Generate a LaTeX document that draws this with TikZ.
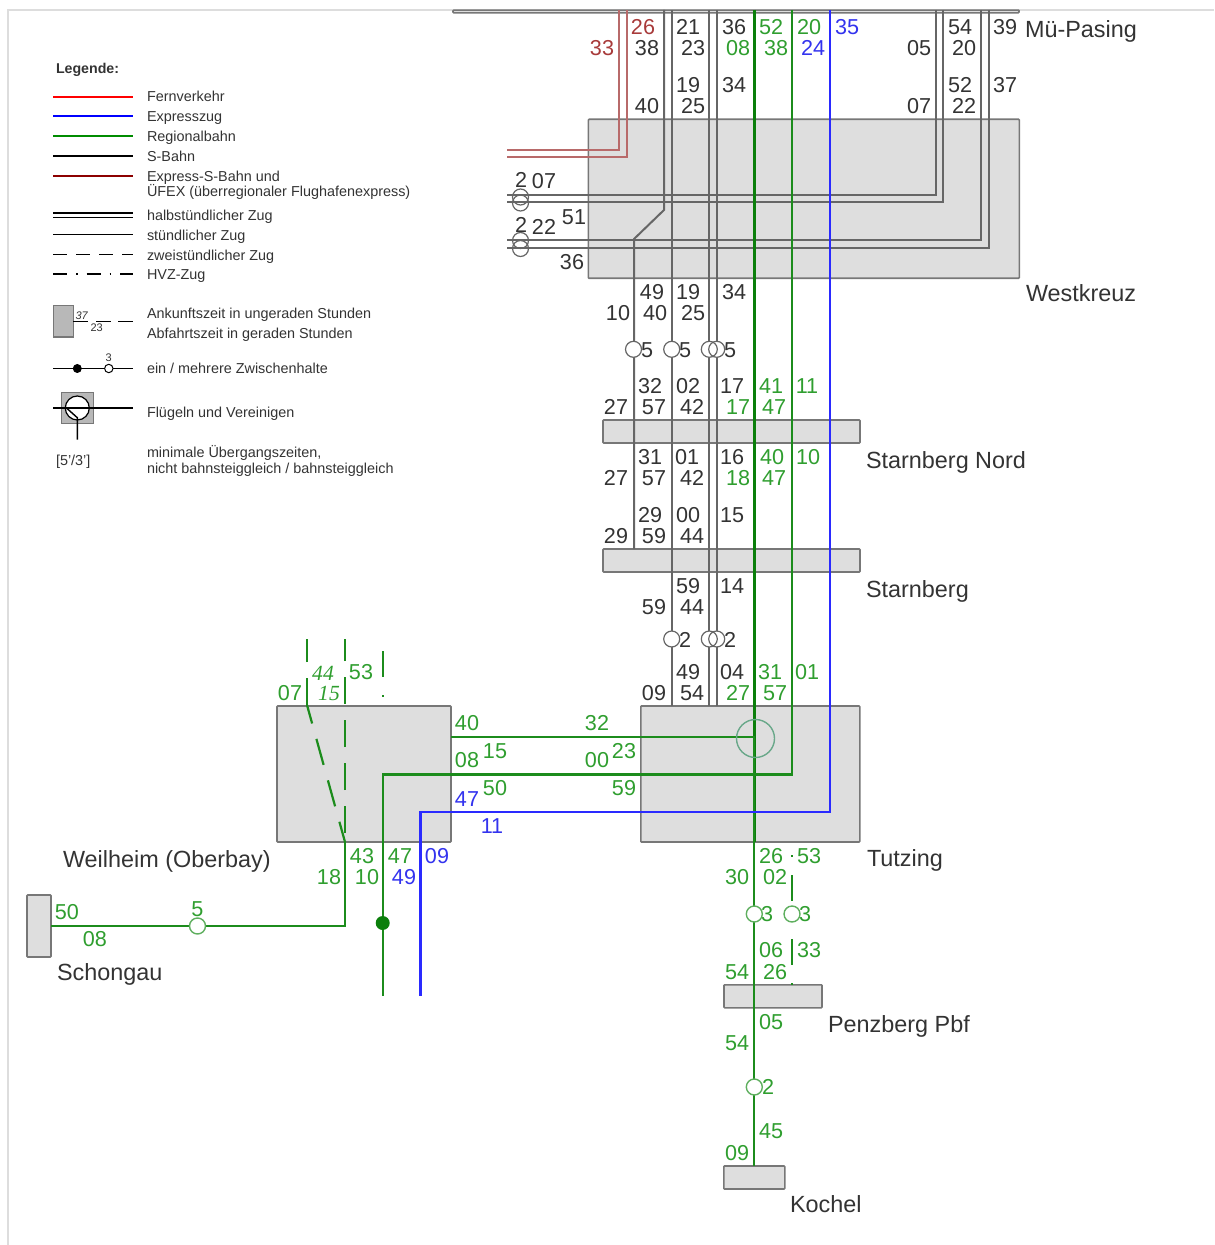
\documentclass[tikz,border=0pt]{standalone}
\usepackage{fontspec}
\setmainfont{Liberation Sans}
\newfontfamily\timesfont{Liberation Serif}
\definecolor{framegrey}{HTML}{DDDDDD}
\definecolor{boxgrey}{HTML}{DEDEDE}
\definecolor{boxedge}{HTML}{777777}
\definecolor{sbahngrey}{HTML}{666666}
\definecolor{txtgrey}{HTML}{333333}
\definecolor{txtgreen}{HTML}{2F9E2F}
\definecolor{txtblue}{HTML}{3333EE}
\definecolor{txtred}{HTML}{A83A3A}
\definecolor{regiogreen}{HTML}{1C8C1C}
\definecolor{regiodark}{HTML}{0B7F0B}
\definecolor{expressblue}{HTML}{2A2AFF}
\definecolor{ufexred}{HTML}{B86A6A}
\definecolor{stopgreen}{HTML}{5FAF5F}
\definecolor{ringgreen}{HTML}{6AA88A}
\definecolor{legendbox}{HTML}{B8B8B8}
\tikzset{
    timetext/.style={font=\fontsize{10.8}{12}\selectfont, inner sep=0pt, outer sep=0pt, anchor=center},
    timeblack/.style={timetext, text=txtgrey},
    timegreen/.style={timetext, text=txtgreen},
    timeblue/.style={timetext, text=txtblue},
    timered/.style={timetext, text=txtred},
    timeitalic/.style={inner sep=0pt, outer sep=0pt, text=txtgreen, font=\timesfont\itshape\fontsize{10.8}{12}\selectfont},
    stationname/.style={font=\fontsize{11.7}{13}\selectfont, text=txtgrey, inner sep=0pt, outer sep=0pt, anchor=base west},
    legendtext/.style={font=\fontsize{7.2}{9}\selectfont, text=txtgrey, inner sep=0pt, outer sep=0pt, anchor=base west},
    legendsmall/.style={font=\fontsize{5.5}{6}\selectfont, text=txtgrey, inner sep=0pt, outer sep=0pt},
    stationbox/.style={draw=boxedge, fill=boxgrey, line width=0.8pt, rounded corners=0.4pt, inner sep=0pt, outer sep=0pt},
    legendgrey/.style={draw=boxedge, fill=legendbox, line width=0.6pt, inner sep=0pt, outer sep=0pt},
    legendline/.style={line width=0.85pt},
    lineblack/.style={draw=sbahngrey, line width=1pt},
    linegreen/.style={draw=regiogreen, line width=1.1pt},
    linedark/.style={draw=regiodark, line width=1.2pt},
    lineblue/.style={draw=expressblue, line width=1.2pt},
    linered/.style={draw=ufexred, line width=1pt},
    zweistd/.style={dash pattern=on 13.5pt off 8pt},
    hvzdash/.style={dash pattern=on 1pt off 9pt on 13pt off 9pt},
    stopblack/.style={circle, draw=sbahngrey, fill=white, line width=0.6pt, minimum size=8pt, inner sep=0pt, outer sep=0pt},
    stopgrn/.style={circle, draw=stopgreen, fill=white, line width=0.7pt, minimum size=8pt, inner sep=0pt, outer sep=0pt},
    stopring/.style={circle, draw=sbahngrey, line width=0.6pt, minimum size=8pt, inner sep=0pt, outer sep=0pt},
    stopwhite/.style={circle, fill=white, minimum size=8pt, inner sep=0pt, outer sep=0pt}
}
\begin{document}
\begin{tikzpicture}[x=0.5pt, y=-0.5pt]
        \useasboundingbox (0, 0) rectangle (1214, 1245);

        % Frame
        \draw [framegrey, line width=0.75pt] (8, 1245) -- (8, 10) -- (1214, 10);

        % Legend
        \node [legendtext, font=\fontsize{7.1}{9}\selectfont\bfseries] (lgTitle) at (56, 73.7) {Legende:};
        \draw [red, legendline] (53, 97) -- (133, 97);
        \draw [blue, legendline] (53, 116) -- (133, 116);
        \draw [green!55!black, legendline] (53, 136) -- (133, 136);
        \draw [black, legendline] (53, 156) -- (133, 156);
        \draw [red!55!black, legendline] (53, 176) -- (133, 176);
        \draw [black, legendline] (53, 213) -- (133, 213);
        \draw [black, legendline] (53, 217.5) -- (133, 217.5);
        \draw [black, line width=0.65pt] (53, 234.5) -- (133, 234.5);
        \draw [black, line width=0.75pt, dash pattern=on 7pt off 4.5pt] (53, 254.7) -- (133, 254.7);
        \draw [black, line width=0.75pt, dash pattern=on 7pt off 4.5pt on 0.8pt off 4.5pt] (53, 274) -- (133, 274);
        \node [legendtext] (lgFern) at (147, 102) {Fernverkehr};
        \node [legendtext] (lgExpress) at (147, 121.2) {Expresszug};
        \node [legendtext] (lgRegio) at (147, 141.6) {Regionalbahn};
        \node [legendtext] (lgSbahn) at (147, 161.2) {S-Bahn};
        \node [legendtext] (lgUfexA) at (147, 181.2) {Express-S-Bahn und};
        \node [legendtext] (lgUfexB) at (147, 197) {ÜFEX (überregionaler Flughafenexpress)};
        \node [legendtext] (lgHalb) at (147, 220.6) {halbstündlicher Zug};
        \node [legendtext] (lgStd) at (147, 240.6) {stündlicher Zug};
        \node [legendtext] (lgZwei) at (147, 260.2) {zweistündlicher Zug};
        \node [legendtext] (lgHvz) at (147, 279.6) {HVZ-Zug};

        \node [legendgrey, minimum width=10pt, minimum height=15.7pt] (lgBoxA) at (63.3, 321.3) {};
        \draw [black, line width=0.75pt] (lgBoxA.east) -- (88, 321.3);
        \draw [black, line width=0.75pt] (96, 321.3) -- (110.5, 321.3);
        \draw [black, line width=0.75pt] (118, 321.3) -- (133, 321.3);
        \node [legendsmall, font=\fontsize{5.5}{6}\selectfont\itshape] (lgArr) at (81.7, 315.7) {37};
        \node [legendsmall] (lgDep) at (96.7, 327.7) {23};
        \node [legendtext] (lgAnk) at (147, 318.7) {Ankunftszeit in ungeraden Stunden};
        \node [legendtext] (lgAbf) at (147, 338.7) {Abfahrtszeit in geraden Stunden};

        \draw [black, legendline] (53, 368.5) -- (133, 368.5);
        \node [circle, fill=black, minimum size=4.5pt, inner sep=0pt] (lgStopA) at (77.3, 368.5) {};
        \node [circle, draw=black, fill=white, line width=0.5pt, minimum size=4.2pt, inner sep=0pt] (lgStopB) at (108.8, 368.5) {};
        \node [legendsmall] (lgStopNum) at (108.8, 358) {3};
        \node [legendtext] (lgHalt) at (147, 374) {ein / mehrere Zwischenhalte};

        \node [legendgrey, minimum width=15.8pt, minimum height=15.7pt] (lgBoxB) at (77.5, 408) {};
        \node [circle, draw=black, fill=white, line width=0.6pt, minimum size=12pt, inner sep=0pt] (lgRing) at (77.3, 408) {};
        \draw [black, line width=0.7pt] (53, 408) -- (133, 408);
        \draw [black, line width=0.7pt] (66.5, 408) -- (77.3, 417.7) -- (77.3, 439.5);
        \node [legendtext] (lgFlug) at (147, 417) {Flügeln und Vereinigen};
        \node [legendtext] (lgUmst) at (56, 465) {[5'/3']};
        \node [legendtext] (lgMinA) at (147, 457) {minimale Übergangszeiten,};
        \node [legendtext] (lgMinB) at (147, 473) {nicht bahnsteiggleich / bahnsteiggleich};

        % Station boxes
        \node [stationbox, minimum width=283pt, minimum height=1.4pt] (pasing) at (736, 11.5) {};
        \node [stationbox, minimum width=215.5pt, minimum height=79.5pt] (westkreuz) at (803.8, 198.8) {};
        \node [stationbox, minimum width=128.5pt, minimum height=11.5pt] (nord) at (731.5, 431.5) {};
        \node [stationbox, minimum width=128.5pt, minimum height=11.5pt] (starnberg) at (731.5, 560.5) {};
        \node [stationbox, minimum width=109.5pt, minimum height=68pt] (tutzing) at (750.3, 774) {};
        \node [stationbox, minimum width=87pt, minimum height=68pt] (weilheim) at (364, 774) {};
        \node [stationbox, minimum width=49pt, minimum height=11.5pt] (penzberg) at (773, 996.3) {};
        \node [stationbox, minimum width=30.5pt, minimum height=11.5pt] (kochel) at (754.3, 1177.5) {};
        \node [stationbox, minimum width=12pt, minimum height=31pt] (schongau) at (39, 926) {};

        % Line points
        \coordinate (redA) at (619, 10);
        \coordinate (redAb) at (619, 150);
        \coordinate (redAw) at (507, 150);
        \coordinate (redB) at (626.5, 10);
        \coordinate (redBb) at (626.5, 157);
        \coordinate (redBw) at (507, 157);
        \coordinate (sA) at (664, 10);
        \coordinate (sAb) at (664, 210);
        \coordinate (sAc) at (634, 239);
        \coordinate (sAe) at (634, 549);
        \coordinate (sB) at (671.7, 10);
        \coordinate (sBe) at (671.7, 706);
        \coordinate (sC) at (709.3, 10);
        \coordinate (sCe) at (709.3, 706);
        \coordinate (sD) at (716.7, 10);
        \coordinate (sDe) at (716.7, 706);
        \coordinate (hA) at (935.7, 10);
        \coordinate (hAb) at (935.7, 195);
        \coordinate (hAw) at (507, 195);
        \coordinate (hB) at (943, 10);
        \coordinate (hBb) at (943, 202);
        \coordinate (hBw) at (507, 202);
        \coordinate (hC) at (981, 10);
        \coordinate (hCb) at (981, 240.5);
        \coordinate (hCw) at (507, 240.5);
        \coordinate (hD) at (988.7, 10);
        \coordinate (hDb) at (988.7, 248);
        \coordinate (hDw) at (507, 248);
        \coordinate (gA) at (754.3, 10);
        \coordinate (gAb) at (754.3, 842);
        \coordinate (gAj) at (754.3, 737);
        \coordinate (gAe) at (754.3, 1166);
        \coordinate (gAw) at (451, 737);
        \coordinate (gB) at (792.3, 10);
        \coordinate (gBb) at (792.3, 774.5);
        \coordinate (gBw) at (382.7, 774.5);
        \coordinate (gBe) at (382.7, 996);
        \coordinate (bA) at (830, 10);
        \coordinate (bAb) at (830, 812);
        \coordinate (bAw) at (420.3, 812);
        \coordinate (bAe) at (420.3, 996);
        \coordinate (gC) at (51, 926);
        \coordinate (gCb) at (345, 926);
        \coordinate (gCt) at (345, 842);
        \coordinate (gD) at (345, 833);
        \coordinate (gDt) at (345, 639);
        \coordinate (gEt) at (307, 639);
        \coordinate (gEb) at (307, 705);
        \coordinate (gF) at (382.7, 651);
        \coordinate (gFe) at (382.7, 706);
        \coordinate (gG) at (792.3, 855);
        \coordinate (gGe) at (792.3, 985);

        % Lines
        \draw [linered] (redA) -- (redAb) -- (redAw);
        \draw [linered] (redB) -- (redBb) -- (redBw);
        \draw [lineblack] (sA) -- (sAb) -- (sAc) -- (sAe);
        \draw [lineblack] (sB) -- (sBe);
        \draw [lineblack] (sC) -- (sCe);
        \draw [lineblack] (sD) -- (sDe);
        \draw [lineblack] (hA) -- (hAb) -- (hAw);
        \draw [lineblack] (hB) -- (hBb) -- (hBw);
        \draw [lineblack] (hC) -- (hCb) -- (hCw);
        \draw [lineblack] (hD) -- (hDb) -- (hDw);
        \draw [linedark] (gA) -- (gAb);
        \draw [linegreen] (gAw) -- (gAj) -- (gAe);
        \draw [linegreen] (gB) -- (gBb) -- (gBw) -- (gBe);
        \draw [lineblue] (bA) -- (bAb) -- (bAw) -- (bAe);
        \draw [linegreen] (gC) -- (gCb) -- (gCt);
        \draw [linegreen, zweistd] (gD) -- (gDt);
        \draw [linegreen, zweistd, dash phase=3pt] (gCt) -- (gEb);
        \draw [linegreen, zweistd] (gEb) -- (gEt);
        \draw [linegreen, hvzdash, dash phase=10pt] (gF) -- (gFe);
        \draw [linegreen, hvzdash] (gG) -- (gGe);

        % Stops
        \node [stopring] (wRingA) at (520.5, 197) {};
        \node [stopring] (wRingB) at (520.5, 203) {};
        \node [stopring] (wRingC) at (520.5, 240.5) {};
        \node [stopring] (wRingD) at (520.5, 248.5) {};
        \node [stopblack] (uStopA) at (633.5, 349.3) {};
        \node [stopblack] (uStopB) at (671.7, 349.3) {};
        \node [stopwhite] (uBackC) at (709.3, 349.3) {};
        \node [stopwhite] (uBackD) at (716.7, 349.3) {};
        \node [stopring] (uStopC) at (709.3, 349.3) {};
        \node [stopring] (uStopD) at (716.7, 349.3) {};
        \node [stopblack] (tStopB) at (671.7, 639) {};
        \node [stopwhite] (tBackC) at (709.3, 639) {};
        \node [stopwhite] (tBackD) at (716.7, 639) {};
        \node [stopring] (tStopC) at (709.3, 639) {};
        \node [stopring] (tStopD) at (716.7, 639) {};
        \node [stopgrn] (zStopA) at (754.3, 914) {};
        \node [stopgrn] (zStopB) at (792, 914) {};
        \node [stopgrn] (bStop) at (754.3, 1087) {};
        \node [stopgrn] (cStop) at (197.5, 926) {};
        \node [circle, fill=regiodark, minimum size=7pt, inner sep=0pt] (kStop) at (382.7, 923) {};
        \node [circle, draw=ringgreen, line width=0.7pt, minimum size=19pt, inner sep=0pt] (tutRing) at (755.5, 738.5) {};

        % Mue-Pasing times
        \node [timered] (p33) at (602, 48) {33};
        \node [timered] (p26) at (643, 27) {26};
        \node [timeblack] (p38) at (647, 48) {38};
        \node [timeblack] (p21) at (688, 27) {21};
        \node [timeblack] (p23) at (693, 48) {23};
        \node [timeblack] (p36) at (734, 27) {36};
        \node [timegreen] (p08) at (738, 48) {08};
        \node [timegreen] (p52) at (771, 27) {52};
        \node [timegreen] (p38g) at (776, 48) {38};
        \node [timegreen] (p20) at (809, 27) {20};
        \node [timeblue] (p24) at (813, 48) {24};
        \node [timeblue] (p35) at (847, 27) {35};
        \node [timeblack] (p05) at (919, 48) {05};
        \node [timeblack] (p54) at (960, 27) {54};
        \node [timeblack] (p20b) at (964, 48) {20};
        \node [timeblack] (p39) at (1005, 27) {39};

        % Westkreuz times
        \node [timeblack] (w19) at (688, 85) {19};
        \node [timeblack] (w25) at (693, 106) {25};
        \node [timeblack] (w34) at (734, 85) {34};
        \node [timeblack] (w40) at (647, 106) {40};
        \node [timeblack] (w52) at (960, 85) {52};
        \node [timeblack] (w22) at (964, 106) {22};
        \node [timeblack] (w07) at (919, 106) {07};
        \node [timeblack] (w37) at (1005, 85) {37};
        \node [timeblack] (wA2) at (521, 180) {2};
        \node [timeblack] (wA07) at (544, 181) {07};
        \node [timeblack] (wA51) at (574, 217) {51};
        \node [timeblack] (wB2) at (521, 225) {2};
        \node [timeblack] (wB22) at (544, 227) {22};
        \node [timeblack] (wB36) at (572, 262) {36};
        \node [timeblack] (u49) at (652, 292) {49};
        \node [timeblack] (u19) at (688, 292) {19};
        \node [timeblack] (u34) at (734, 292) {34};
        \node [timeblack] (u10) at (618, 313) {10};
        \node [timeblack] (u40) at (655, 313) {40};
        \node [timeblack] (u25) at (693, 313) {25};
        \node [timeblack] (uA5) at (647, 350) {5};
        \node [timeblack] (uB5) at (685, 350) {5};
        \node [timeblack] (uC5) at (730, 350) {5};

        % Starnberg Nord times
        \node [timeblack] (n32) at (650, 386) {32};
        \node [timeblack] (n02) at (688, 386) {02};
        \node [timeblack] (n17) at (732, 386) {17};
        \node [timegreen] (n41) at (771, 386) {41};
        \node [timegreen] (n11) at (807, 386) {11};
        \node [timeblack] (n27) at (616, 407) {27};
        \node [timeblack] (n57) at (654, 407) {57};
        \node [timeblack] (n42) at (692, 407) {42};
        \node [timegreen] (n17g) at (738, 407) {17};
        \node [timegreen] (n47) at (774, 407) {47};
        \node [timeblack] (m31) at (650, 457) {31};
        \node [timeblack] (m01) at (687, 457) {01};
        \node [timeblack] (m16) at (732, 457) {16};
        \node [timegreen] (m40) at (772, 457) {40};
        \node [timegreen] (m10) at (808, 457) {10};
        \node [timeblack] (m27) at (616, 478) {27};
        \node [timeblack] (m57) at (654, 478) {57};
        \node [timeblack] (m42) at (692, 478) {42};
        \node [timegreen] (m18) at (738, 478) {18};
        \node [timegreen] (m47) at (774, 478) {47};

        % Starnberg times
        \node [timeblack] (s29) at (650, 515) {29};
        \node [timeblack] (s00) at (688, 515) {00};
        \node [timeblack] (s15) at (732, 515) {15};
        \node [timeblack] (s29b) at (616, 536) {29};
        \node [timeblack] (s59) at (654, 536) {59};
        \node [timeblack] (s44) at (692, 536) {44};
        \node [timeblack] (t59) at (688, 586) {59};
        \node [timeblack] (t14) at (732, 586) {14};
        \node [timeblack] (t59b) at (654, 607) {59};
        \node [timeblack] (t44) at (692, 607) {44};
        \node [timeblack] (tA2) at (685, 640) {2};
        \node [timeblack] (tB2) at (730, 640) {2};

        % Tutzing times
        \node [timeblack] (v49) at (688, 672) {49};
        \node [timeblack] (v04) at (732, 672) {04};
        \node [timegreen] (v31) at (770, 672) {31};
        \node [timegreen] (v01) at (807, 672) {01};
        \node [timeblack] (v09) at (654, 693) {09};
        \node [timeblack] (v54) at (692, 693) {54};
        \node [timegreen] (v27) at (738, 693) {27};
        \node [timegreen] (v57) at (775, 693) {57};
        \node [timegreen] (j32) at (597, 723) {32};
        \node [timegreen] (j23) at (624, 751) {23};
        \node [timegreen] (j00) at (597, 760) {00};
        \node [timegreen] (j59) at (624, 788) {59};
        \node [timegreen] (z26) at (771, 856) {26};
        \node [timegreen] (z53) at (809, 856) {53};
        \node [timegreen] (z30) at (737, 877) {30};
        \node [timegreen] (z02) at (775, 877) {02};
        \node [timegreen] (zA3) at (767, 914) {3};
        \node [timegreen] (zB3) at (805, 914) {3};

        % Weilheim times
        \node [timegreen] (h07) at (290, 693) {07};
        \node [timegreen] (h53) at (361, 672) {53};
        \node [timeitalic] (h44) at (323, 673) {44};
        \node [timeitalic] (h15) at (329, 693) {15};
        \node [timegreen] (i40) at (467, 723) {40};
        \node [timegreen] (i15) at (495, 751) {15};
        \node [timegreen] (i08) at (467, 760) {08};
        \node [timegreen] (i50) at (495, 788) {50};
        \node [timeblue] (i47) at (467, 799) {47};
        \node [timeblue] (i11) at (492, 826) {11};
        \node [timegreen] (k43) at (362, 856) {43};
        \node [timegreen] (k47) at (400, 856) {47};
        \node [timeblue] (k09) at (437, 856) {09};
        \node [timegreen] (k18) at (329, 877) {18};
        \node [timegreen] (k10) at (367, 877) {10};
        \node [timeblue] (k49) at (404, 877) {49};

        % Schongau times
        \node [timegreen] (c50) at (67, 912) {50};
        \node [timegreen] (c08) at (95, 939) {08};
        \node [timegreen] (c5) at (197.5, 909) {5};

        % Penzberg and Kochel times
        \node [timegreen] (b06) at (771, 950) {06};
        \node [timegreen] (b33) at (809, 950) {33};
        \node [timegreen] (b54) at (737, 972) {54};
        \node [timegreen] (b26) at (775, 972) {26};
        \node [timegreen] (e05) at (771, 1022) {05};
        \node [timegreen] (e54) at (737, 1043) {54};
        \node [timegreen] (e2) at (768, 1087) {2};
        \node [timegreen] (e45) at (771, 1131) {45};
        \node [timegreen] (e09) at (737, 1153) {09};

        % Station names
        \node [stationname] (pasingName) at (1025, 38) {Mü-Pasing};
        \node [stationname] (westName) at (1026, 302) {Westkreuz};
        \node [stationname] (nordName) at (866, 468) {Starnberg Nord};
        \node [stationname] (starnName) at (866, 597) {Starnberg};
        \node [stationname] (tutzName) at (867, 866) {Tutzing};
        \node [stationname] (penzName) at (828, 1032) {Penzberg Pbf};
        \node [stationname] (kochName) at (790, 1212) {Kochel};
        \node [stationname] (weilName) at (63, 867) {Weilheim (Oberbay)};
        \node [stationname] (schoName) at (57, 980) {Schongau};
\end{tikzpicture}
\end{document}
